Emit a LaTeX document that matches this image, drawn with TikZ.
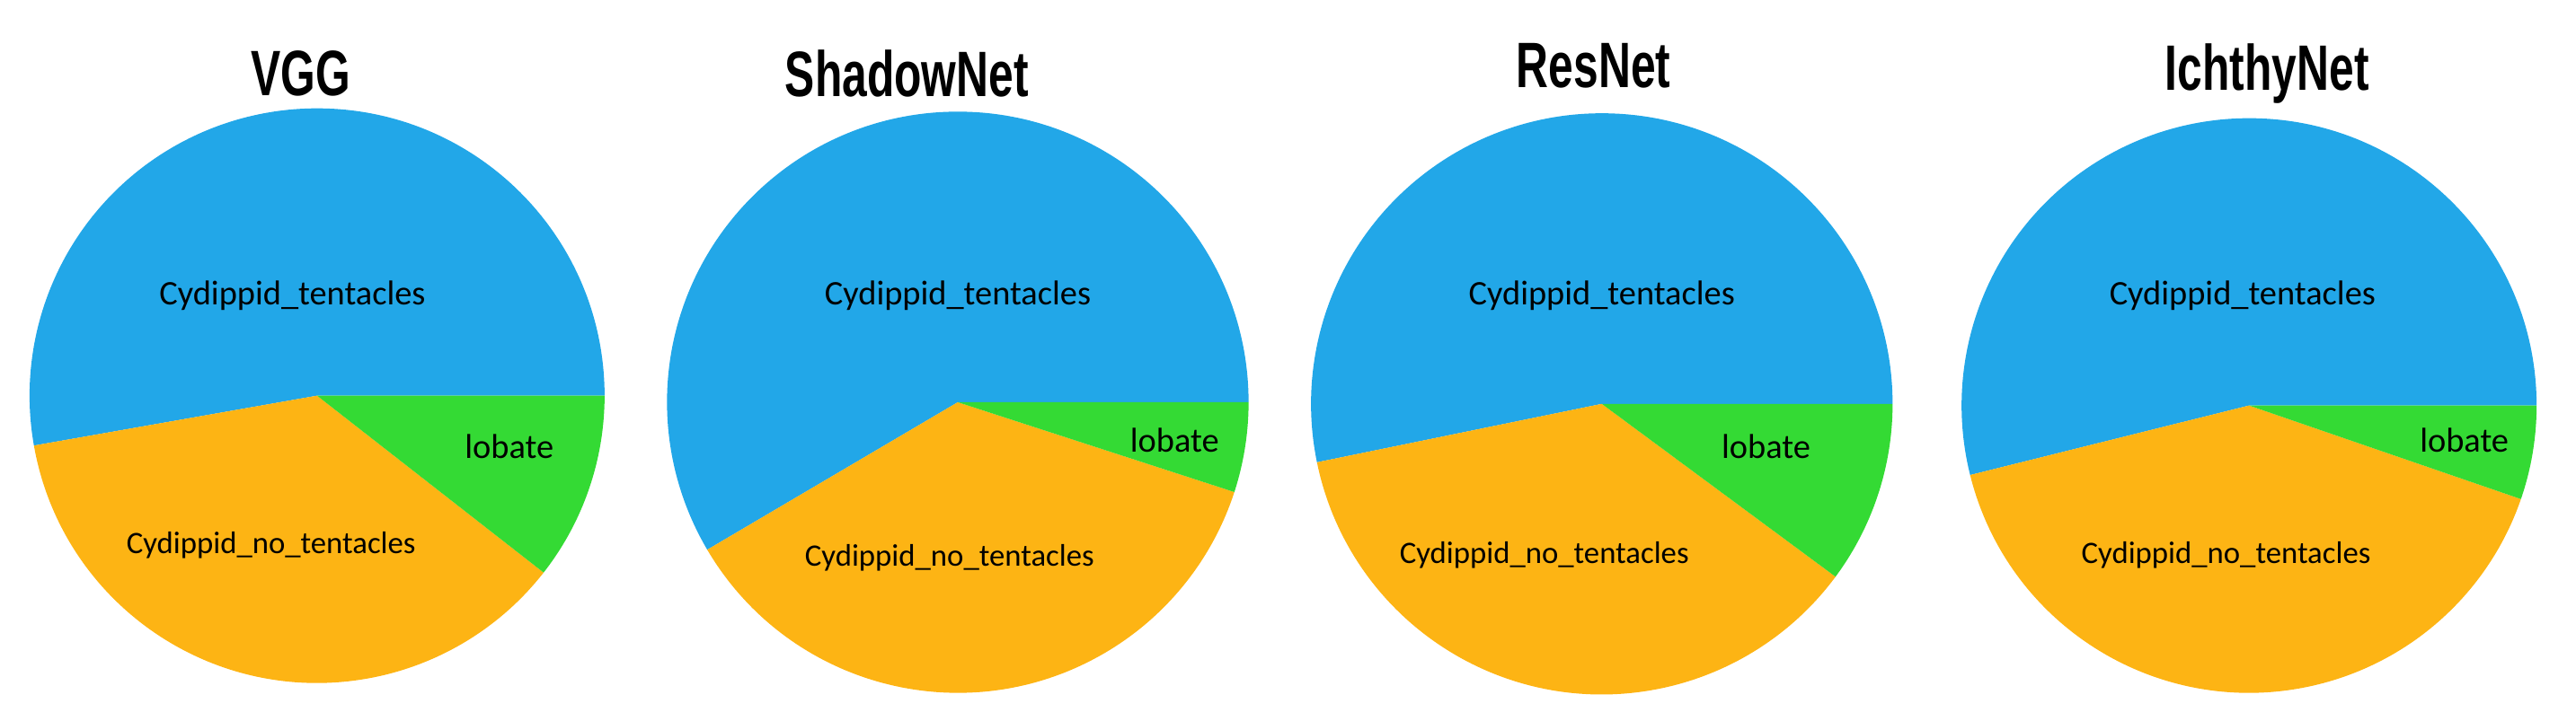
\documentclass[tikz,border=0pt]{standalone}
\usepackage{fontspec}
\setmainfont{Carlito}
\newfontfamily\ttlfont{Liberation Sans}
\definecolor{pblue}{HTML}{22A7E8}
\definecolor{porange}{HTML}{FDB414}
\definecolor{pgreen}{HTML}{34DA34}
\begin{document}
\begin{tikzpicture}[x=1pt,y=-1pt,
  ttl/.style={font=\ttlfont\bfseries\fontsize{34}{34}\selectfont,xscale=0.8,yscale=1.15},
  lab/.style={font=\fontsize{21}{21}\selectfont},
  labs/.style={font=\fontsize{19}{19}\selectfont}]
\useasboundingbox (0,0) rectangle (1568,439);
% pie macro-free: explicit sectors
\newcommand{\mypie}[6]{% cx cy r a1 a2 name
  \fill[pblue] (#1,#2) -- ++(0:#3) arc[start angle=0,end angle=-#4,radius=#3] -- cycle;
  \fill[porange] (#1,#2) -- ++(-#4:#3) arc[start angle=-#4,end angle=-#5,radius=#3] -- cycle;
  \fill[pgreen] (#1,#2) -- ++(-#5:#3) arc[start angle=-#5,end angle=-360,radius=#3] -- cycle;
  \coordinate (#6) at (#1,#2);}
\mypie{193}{241}{175}{190}{322}{c1}
\mypie{583}{245}{177}{210.5}{342}{c2}
\mypie{975}{246}{177}{191.6}{323.5}{c3}
\mypie{1369}{247}{175}{194}{341}{c4}
\node[ttl] (t1) at (183,45) {VGG};
\node[ttl] (t2) at (552,45) {ShadowNet};
\node[ttl] (t3) at (970,40) {ResNet};
\node[ttl] (t4) at (1380,45) {IchthyNet};
\node[lab] (a1) at (178,180) {Cydippid\_tentacles};
\node[lab] (b1) at (310,272) {lobate};
\node[labs] (n1) at (165,332) {Cydippid\_no\_tentacles};
\node[lab] (a2) at (583,180) {Cydippid\_tentacles};
\node[lab] (b2) at (715,268) {lobate};
\node[labs] (n2) at (578,340) {Cydippid\_no\_tentacles};
\node[lab] (a3) at (975,180) {Cydippid\_tentacles};
\node[lab] (b3) at (1075,272) {lobate};
\node[labs] (n3) at (940,338) {Cydippid\_no\_tentacles};
\node[lab] (a4) at (1365,180) {Cydippid\_tentacles};
\node[lab] (b4) at (1500,268) {lobate};
\node[labs] (n4) at (1355,338) {Cydippid\_no\_tentacles};
\end{tikzpicture}
\end{document}
